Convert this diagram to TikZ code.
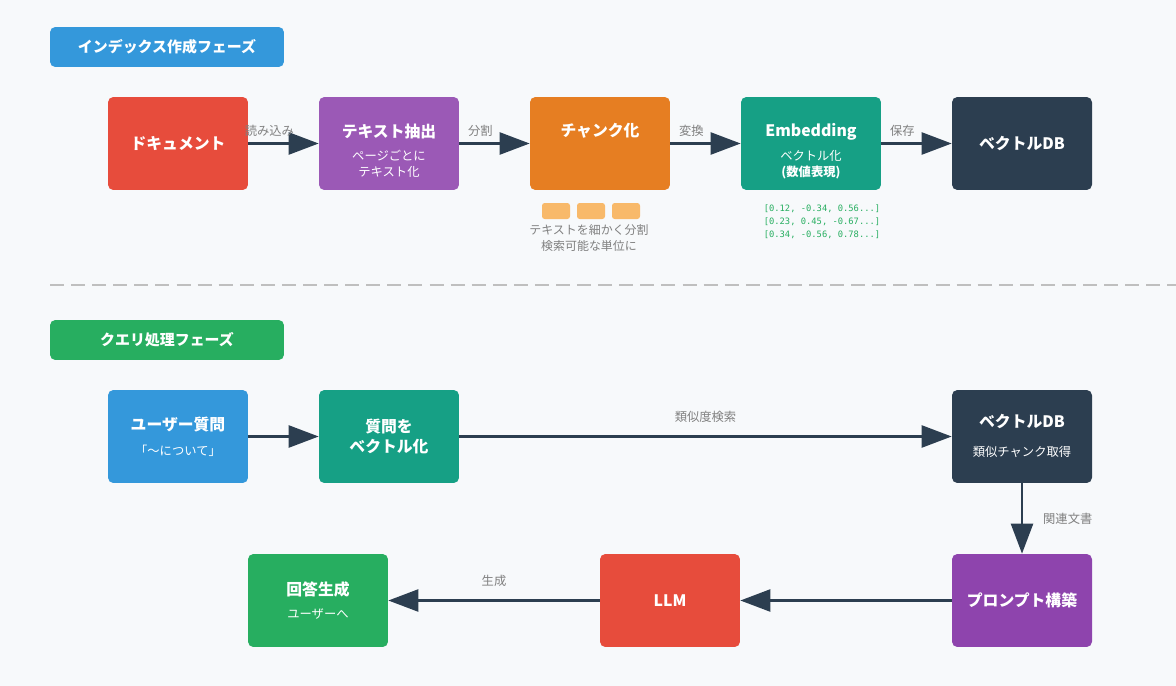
\documentclass[tikz,border=0pt]{standalone}
\usepackage{fontspec}
\setmainfont{Noto Sans CJK JP}
\newfontfamily\codefont{DejaVu Sans Mono}
\usetikzlibrary{arrows.meta}
\definecolor{bgc}{HTML}{F7F9FB}
\definecolor{cred}{HTML}{E74C3C}
\definecolor{cpurple}{HTML}{9B59B6}
\definecolor{corange}{HTML}{E67E22}
\definecolor{cteal}{HTML}{16A085}
\definecolor{cdark}{HTML}{2C3E50}
\definecolor{cblue}{HTML}{3498DB}
\definecolor{cgreen}{HTML}{27AE60}
\definecolor{cviolet}{HTML}{8E44AD}
\definecolor{cchunk}{HTML}{F8B96A}
\definecolor{cvec}{HTML}{27AE60}
\tikzset{
  box/.style={rounded corners=3pt, minimum width=2.8cm, minimum height=1.86cm, text=white, align=center, font=\bfseries\fontsize{9}{11}\selectfont},
  phase/.style={rounded corners=3pt, minimum width=4.68cm, minimum height=0.8cm, text=white, font=\bfseries\fontsize{8.5}{10}\selectfont},
  flow/.style={draw=cdark, line width=1.4pt, -{Triangle[length=0.6cm,width=0.44cm]}},
  lbl/.style={text=gray, font=\fontsize{7}{8}\selectfont},
  subt/.style={text=white, align=center, font=\fontsize{7}{9}\selectfont},
}
\begin{document}
\begin{tikzpicture}[x=0.02cm,y=-0.02cm]
  \fill[bgc] (0,0) rectangle (1176,686);
  \useasboundingbox (0,0) rectangle (1176,686);

  % index phase
  \node[phase, fill=cblue] (ph1) at (167,47) {インデックス作成フェーズ};
  \node[box, fill=cred] (doc) at (178,143.5) {ドキュメント};
  \node[box, fill=cpurple] (ext) at (389,143.5) {};
  \node[box, fill=corange] (chk) at (600,143.5) {};
  \node[box, fill=cteal] (emb) at (811,143.5) {};
  \node[box, fill=cdark] (vdb) at (1022,143.5) {ベクトルDB};
  \node[box, minimum size=0pt] (extt) at (389,131) {テキスト抽出};
  \node[subt] (exts) at (389,164) {ページごとに\\テキスト化};
  \node[box, minimum size=0pt] (chkt) at (600,131) {チャンク化};
  \node[box, minimum size=0pt] (embt) at (811,132) {Embedding};
  \node[subt] (embs) at (811,165) {ベクトル化\\\bfseries (数値表現)};
  \draw[flow] (doc) -- node[lbl, above, pos=0.3] {読み込み} (ext);
  \draw[flow] (ext) -- node[lbl, above, pos=0.3] {分割} (chk);
  \draw[flow] (chk) -- node[lbl, above, pos=0.3] {変換} (emb);
  \draw[flow] (emb) -- node[lbl, above, pos=0.3] {保存} (vdb);
  \foreach \cx in {556,591,626}
    \fill[cchunk, rounded corners=1.5pt] (\cx-14,203) rectangle (\cx+14,219);
  \node[lbl, align=center, font=\fontsize{6.8}{9.5}\selectfont] (chknote) at (589,238) {テキストを細かく分割\\検索可能な単位に};
  \node[text=cvec, align=left, font=\codefont\fontsize{5}{7.5}\selectfont] (vecs) at (822,222) {[0.12, -0.34, 0.56...]\\ {[0.23, 0.45, -0.67...]}\\ {[0.34, -0.56, 0.78...]}};

  \draw[gray!50, dash pattern=on 8pt off 4pt, line width=1pt] (50,285) -- (1176,285);

  % query phase
  \node[phase, fill=cgreen] (ph2) at (167,340) {クエリ処理フェーズ};
  \node[box, fill=cblue] (usr) at (178,436.5) {};
  \node[box, fill=cteal] (qv) at (389,436.5) {質問を\\ベクトル化};
  \node[box, fill=cdark] (qdb) at (1022,436.5) {};
  \node[box, fill=cviolet] (pro) at (1022,600.5) {プロンプト構築};
  \node[box, fill=cred] (llm) at (670,600.5) {LLM};
  \node[box, fill=cgreen] (ans) at (318,600.5) {};
  \node[box, minimum size=0pt] (usrt) at (178,425) {ユーザー質問};
  \node[subt] (usrs) at (178,451) {「〜について」};
  \node[box, minimum size=0pt] (qdbt) at (1022,421) {ベクトルDB};
  \node[subt] (qdbs) at (1022,452) {類似チャンク取得};
  \node[box, minimum size=0pt] (anst) at (318,589) {回答生成};
  \node[subt] (anss) at (318,614) {ユーザーへ};
  \draw[flow] (usr) -- (qv);
  \draw[flow] (qv) -- node[lbl, above=4pt] {類似度検索} (qdb);
  \draw[flow] (qdb) -- node[lbl, right=8pt] {関連文書} (pro);
  \draw[flow] (pro) -- (llm);
  \draw[flow] (llm) -- node[lbl, above=4pt] {生成} (ans);
\end{tikzpicture}
\end{document}
